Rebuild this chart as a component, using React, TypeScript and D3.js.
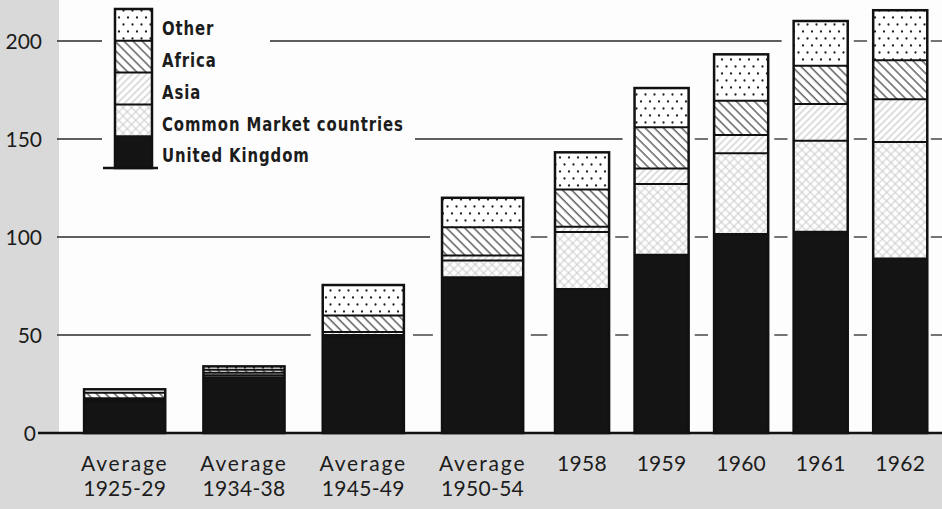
import React from "react";
import * as d3 from "d3";

const categories: string[][] = [
  ["Average", "1925-29"],
  ["Average", "1934-38"],
  ["Average", "1945-49"],
  ["Average", "1950-54"],
  ["1958"],
  ["1959"],
  ["1960"],
  ["1961"],
  ["1962"],
];

const seriesNames = ["United Kingdom", "Common Market countries", "Asia", "Africa", "Other"];
const unitedKingdom = [16.5, 28.5, 49, 79.5, 73.5, 91, 101.5, 102.7, 89];
const commonMarket = [0.6, 1, 1, 8.5, 29, 36, 41.2, 46.4, 59.5];
const asia = [0.6, 1.2, 1.5, 2.5, 2.7, 8, 9.3, 18.8, 21.8];
const africa = [2.8, 1.6, 8.5, 14.5, 19, 21, 17.5, 19.5, 19.9];
const other = [1.8, 1.7, 15.5, 15, 19, 20, 23.7, 22.8, 25.5];
const yTicks = [0, 50, 100, 150, 200];

const W = 942;
const H = 509;
const FILLS = ["#141414", "url(#pCM)", "url(#pAsia)", "url(#pAfrica)", "url(#pDots)"];
const TXT = "#1c1c1c";

export default function App() {
  React.useEffect(() => {
    document.body.style.margin = "0";
  }, []);

  const series = [unitedKingdom, commonMarket, asia, africa, other];
  const weights = categories.map((c) => (c[0] === "Average" ? 1.5 : 1));
  const cum: number[] = [];
  weights.reduce((acc, w) => {
    cum.push(acc);
    return acc + w;
  }, 0);
  const totalW = d3.sum(weights);
  const x = d3.scaleLinear().domain([0, totalW]).range([65, 940]);
  const y = d3.scaleLinear().domain([0, 200]).range([433, 41]);

  const bars = categories.map((c, i) => {
    const b0 = x(cum[i]);
    const b1 = x(cum[i] + weights[i]);
    const cx = (b0 + b1) / 2;
    const bw = (b1 - b0) * 0.68;
    const vals = series.map((s) => s[i]);
    const stack: { y0: number; y1: number }[] = [];
    let acc = 0;
    vals.forEach((v) => {
      stack.push({ y0: acc, y1: acc + v });
      acc += v;
    });
    return { c, cx, x0: cx - bw / 2, x1: cx + bw / 2, stack, total: acc };
  });

  const plotLeft = 57;
  const legendMaskEnd: Record<number, number> = { 200: 270, 150: 415 };

  const gridSegs: { v: number; a: number; b: number }[] = [];
  yTicks
    .filter((v) => v > 0)
    .forEach((v) => {
      const cov: { a: number; b: number; m: boolean }[] = bars
        .filter((b) => b.total > v)
        .map((b) => ({ a: b.x0, b: b.x1, m: true }));
      if (legendMaskEnd[v]) cov.push({ a: 102, b: legendMaskEnd[v], m: false });
      cov.sort((p, q) => p.a - q.a);
      let prev = { b: plotLeft, m: false };
      const all = [...cov, { a: W, b: W, m: false }];
      all.forEach((iv) => {
        const gap = iv.a - prev.b;
        if (gap > 0) {
          const mg = Math.min(12, gap * 0.24);
          const a = prev.b + (prev.m ? mg : 0);
          const b = iv.a - (iv.m ? mg : 0);
          if (b > a) gridSegs.push({ v, a, b });
        }
        prev = { b: iv.b, m: iv.m };
      });
    });

  // legend as a small stacked bar
  const legendOrder = [...seriesNames].reverse();
  const ly = d3.scaleBand<string>().domain(legendOrder).range([9, 168]).paddingInner(0);
  const legendFill = (name: string) => FILLS[seriesNames.indexOf(name)];

  return (
    <svg width={W} height={H} style={{ display: "block", position: "absolute", left: 0, top: 0 }}>
      <defs>
        <pattern id="pDots" patternUnits="userSpaceOnUse" width={9} height={14}>
          <rect width={9} height={14} fill="#fff" />
          <circle cx={2} cy={3.5} r={1.15} fill="#222" />
          <circle cx={6.5} cy={10.5} r={1.15} fill="#222" />
        </pattern>
        <pattern id="pAfrica" patternUnits="userSpaceOnUse" width={6.4} height={6.4} patternTransform="rotate(-45)">
          <rect width={6.4} height={6.4} fill="#fff" />
          <line x1={1} y1={0} x2={1} y2={6.4} stroke="#2a2a2a" strokeWidth={1.1} />
        </pattern>
        <pattern id="pAsia" patternUnits="userSpaceOnUse" width={5} height={5} patternTransform="rotate(45)">
          <rect width={5} height={5} fill="#fff" />
          <line x1={1} y1={0} x2={1} y2={5} stroke="#b4b4b4" strokeWidth={0.9} />
        </pattern>
        <pattern id="pCM" patternUnits="userSpaceOnUse" width={6} height={6} patternTransform="rotate(45)">
          <rect width={6} height={6} fill="#fff" />
          <line x1={1} y1={0} x2={1} y2={6} stroke="#c4c4c4" strokeWidth={0.9} />
          <line x1={0} y1={1} x2={6} y2={1} stroke="#c4c4c4" strokeWidth={0.9} />
        </pattern>
      </defs>

      <rect x={0} y={0} width={W} height={H} fill="#d9d9d9" />
      <rect x={59} y={0} width={W - 59} height={y(0)} fill="#fdfdfd" />

      {/* gridlines */}
      {gridSegs.map((s, i) => (
        <line key={i} x1={s.a} x2={s.b} y1={y(s.v)} y2={y(s.v)} stroke="#2a2a2a" strokeWidth={1.3} />
      ))}

      {/* y tick labels */}
      {yTicks.map((t) => (
        <text
          key={t}
          x={t === 0 ? 36 : 42}
          y={y(t)}
          dy="0.36em"
          textAnchor="end"
          fontFamily="Lato, 'Open Sans', sans-serif"
          fontSize={21}
          fill={TXT}
        >
          {t}
        </text>
      ))}

      {/* bars */}
      {bars.map((b, i) => (
        <g key={i}>
          {b.stack.map((s, k) => (
            <rect
              key={k}
              x={b.x0}
              y={y(s.y1)}
              width={b.x1 - b.x0}
              height={y(s.y0) - y(s.y1)}
              fill={FILLS[k]}
            />
          ))}
          {b.stack.slice(0, -1).map((s, k) => (
            <line key={"d" + k} x1={b.x0} x2={b.x1} y1={y(s.y1)} y2={y(s.y1)} stroke="#111" strokeWidth={2} />
          ))}
          <rect
            x={b.x0}
            y={y(b.total)}
            width={b.x1 - b.x0}
            height={y(0) - y(b.total)}
            fill="none"
            stroke="#111"
            strokeWidth={2.5}
          />
          {b.c.map((line, li) => (
            <text
              key={li}
              x={b.cx}
              y={471 + li * 25}
              textAnchor="middle"
              fontFamily="Lato, 'Open Sans', sans-serif"
              fontSize={21}
              letterSpacing={line === "Average" ? 1.8 : 0.3}
              fill={TXT}
            >
              {line}
            </text>
          ))}
        </g>
      ))}

      {/* zero axis */}
      <line x1={38} x2={W} y1={y(0)} y2={y(0)} stroke="#111" strokeWidth={2.5} />

      {/* legend */}
      <g>
        {legendOrder.map((name) => (
          <rect key={name} x={115} y={ly(name)} width={37} height={ly.bandwidth()} fill={legendFill(name)} />
        ))}
        {legendOrder.slice(1).map((name) => (
          <line key={"l" + name} x1={115} x2={152} y1={ly(name)} y2={ly(name)} stroke="#111" strokeWidth={2} />
        ))}
        <rect x={115} y={9} width={37} height={159} fill="none" stroke="#111" strokeWidth={2.5} />
        <line x1={103} x2={158} y1={168} y2={168} stroke="#111" strokeWidth={2.5} />
        {legendOrder.map((name) => (
          <text
            key={"t" + name}
            transform={`translate(162, ${(ly(name) as number) + ly.bandwidth() / 2 + 3}) scale(0.745, 1)`}
            dy="0.36em"
            fontFamily="'DejaVu Sans', sans-serif"
            fontWeight="bold"
            fontSize={20}
            letterSpacing={1.2}
            fill={TXT}
          >
            {name}
          </text>
        ))}
      </g>
    </svg>
  );
}
